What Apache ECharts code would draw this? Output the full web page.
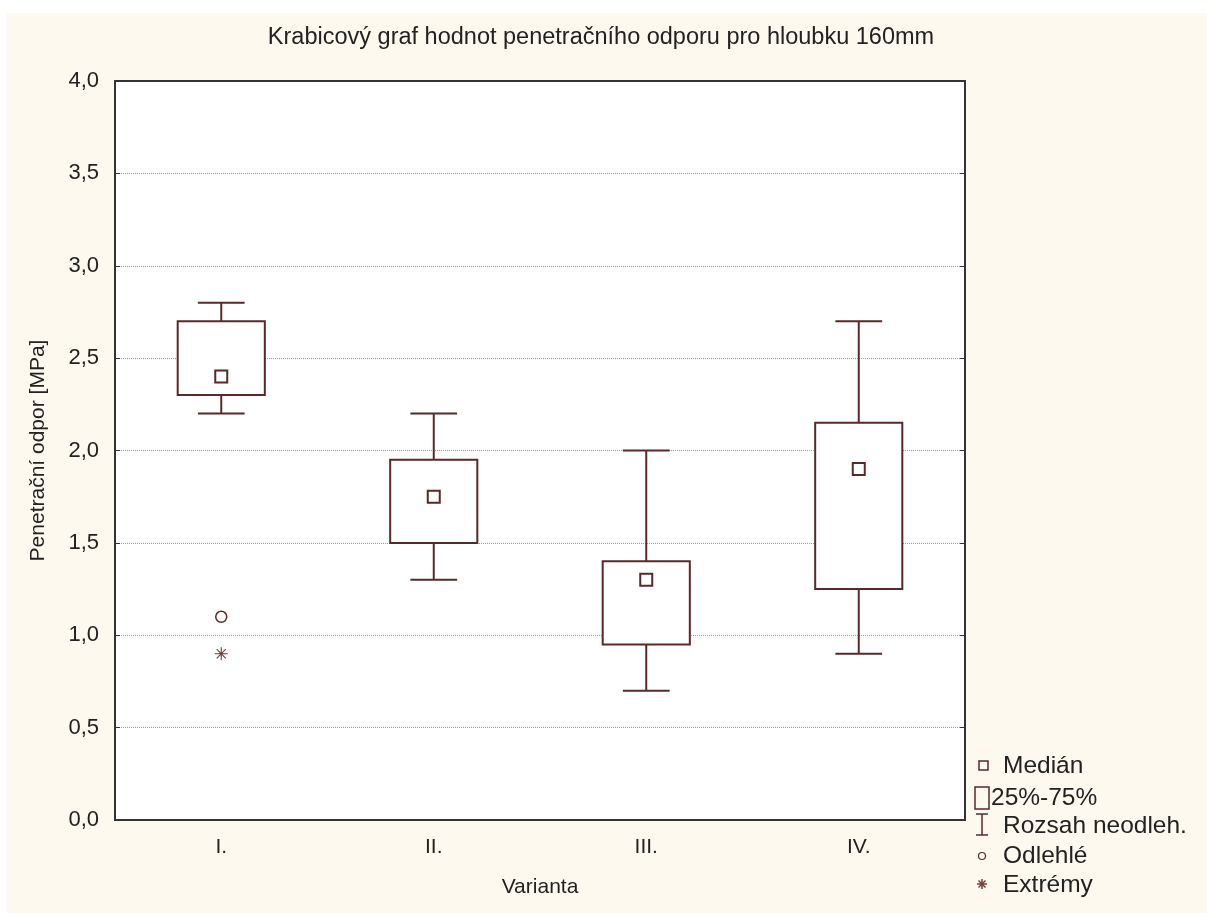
<!DOCTYPE html>
<html>
<head>
<meta charset="utf-8">
<script src="https://cdn.jsdelivr.net/npm/echarts@6/dist/echarts.min.js"></script>
<style>
  html, body { margin: 0; padding: 0; background: #ffffff; }
  #chart { width: 1207px; height: 913px; }
</style>
</head>
<body>
<div id="chart"></div>
<script>
// data
const categories = ["I.", "II.", "III.", "IV."];
const whiskerLow = [2.2, 1.3, 0.7, 0.9];
const q1 = [2.3, 1.5, 0.95, 1.25];
const median = [2.4, 1.75, 1.3, 1.9];
const q3 = [2.7, 1.95, 1.4, 2.15];
const whiskerHigh = [2.8, 2.2, 2.0, 2.7];
const outliers = [[0, 1.1]];
const extremes = [[0, 0.9]];
const yTicks = [0, 0.5, 1, 1.5, 2, 2.5, 3, 3.5, 4];

const MAROON = "#5a2828";
const FONT = '"Liberation Sans", Arial, sans-serif';
const TXT = "#222222";

const boxData = categories.map((c, i) => [i, q1[i], q3[i]]);
const whiskerData = categories.map((c, i) => [i, whiskerLow[i], q1[i], q3[i], whiskerHigh[i]]);
const medianData = categories.map((c, i) => [i, median[i]]);

const chart = echarts.init(document.getElementById("chart"));

function line(x1, y1, x2, y2) {
  return {
    type: "line",
    shape: { x1: x1, y1: y1, x2: x2, y2: y2 },
    style: { stroke: MAROON, lineWidth: 2 },
  };
}

// small legend glyph line
function lg(x1, y1, x2, y2, color) {
  return {
    type: "line",
    shape: { x1: x1, y1: y1, x2: x2, y2: y2 },
    style: { stroke: color || MAROON, lineWidth: 1.5 },
  };
}

function legendText(x, y, text) {
  return {
    type: "text",
    x: x,
    y: y,
    style: { text: text, font: "24.5px " + FONT, fill: TXT, verticalAlign: "middle" },
  };
}

const option = {
  backgroundColor: "#ffffff",
  animation: false,
  title: {
    text: "Krabicový graf hodnot penetračního odporu pro hloubku 160mm",
    left: 596,
    top: 21,
    textAlign: "center",
    textStyle: { fontFamily: FONT, fontSize: 23.5, fontWeight: "normal", color: TXT },
  },
  grid: {
    left: 115,
    right: 242,
    top: 81,
    bottom: 93,
    show: true,
    backgroundColor: "#ffffff",
    borderWidth: 0,
  },
  xAxis: [
    {
      type: "category",
      data: categories,
      boundaryGap: true,
      name: "Varianta",
      nameLocation: "middle",
      nameGap: 57,
      nameTextStyle: { fontFamily: FONT, fontSize: 21, color: TXT },
      axisLine: { onZero: false, lineStyle: { color: "#333333", width: 2 } },
      axisTick: { inside: true, alignWithLabel: true, length: 6, lineStyle: { color: "#333333", width: 2 } },
      axisLabel: { fontFamily: FONT, fontSize: 21, color: TXT, margin: 17 },
      splitLine: { show: false },
    },
    {
      type: "category",
      data: categories,
      position: "top",
      boundaryGap: true,
      axisLine: { onZero: false, lineStyle: { color: "#333333", width: 2 } },
      axisTick: { inside: true, alignWithLabel: true, length: 6, lineStyle: { color: "#333333", width: 2 } },
      axisLabel: { show: false },
      splitLine: { show: false },
    },
  ],
  yAxis: [
    {
      type: "value",
      min: yTicks[0],
      max: yTicks[yTicks.length - 1],
      interval: yTicks[1] - yTicks[0],
      name: "Penetrační odpor [MPa]",
      nameLocation: "middle",
      nameGap: 66,
      nameRotate: 90,
      nameTextStyle: { fontFamily: FONT, fontSize: 21, color: TXT },
      axisLine: { show: true, onZero: false, lineStyle: { color: "#333333", width: 2 } },
      axisTick: { show: true, inside: true, length: 5, lineStyle: { color: "#333333", width: 1 } },
      axisLabel: {
        fontFamily: FONT,
        fontSize: 22,
        color: TXT,
        margin: 16,
        formatter: (v) => v.toFixed(1).replace(".", ","),
      },
      splitLine: { show: true, lineStyle: { color: "#9a9a9a", type: "dotted", width: 1 } },
    },
    {
      type: "value",
      position: "right",
      min: yTicks[0],
      max: yTicks[yTicks.length - 1],
      interval: yTicks[1] - yTicks[0],
      axisLine: { show: true, onZero: false, lineStyle: { color: "#333333", width: 2 } },
      axisTick: { show: true, inside: true, length: 5, lineStyle: { color: "#333333", width: 1 } },
      axisLabel: { show: false },
      splitLine: { show: false },
    },
  ],
  series: [
    {
      name: "Rozsah neodleh.",
      type: "custom",
      z: 3,
      data: whiskerData,
      renderItem: function (params, api) {
        const x = api.value(0);
        const lo = api.coord([x, api.value(1)]);
        const b = api.coord([x, api.value(2)]);
        const t = api.coord([x, api.value(3)]);
        const hi = api.coord([x, api.value(4)]);
        const cap = api.size([1, 0])[0] * 0.22 / 2;
        return {
          type: "group",
          children: [
            line(hi[0], hi[1], t[0], t[1]),
            line(hi[0] - cap, hi[1], hi[0] + cap, hi[1]),
            line(b[0], b[1], lo[0], lo[1]),
            line(lo[0] - cap, lo[1], lo[0] + cap, lo[1]),
          ],
        };
      },
    },
    {
      name: "25%-75%",
      type: "custom",
      z: 4,
      data: boxData,
      renderItem: function (params, api) {
        const x = api.value(0);
        const bot = api.coord([x, api.value(1)]);
        const top = api.coord([x, api.value(2)]);
        const w = api.size([1, 0])[0] * 0.41;
        return {
          type: "rect",
          shape: { x: top[0] - w / 2, y: top[1], width: w, height: bot[1] - top[1] },
          style: { fill: "#ffffff", stroke: MAROON, lineWidth: 2 },
        };
      },
    },
    {
      name: "Medián",
      type: "scatter",
      z: 5,
      data: medianData,
      symbol: "rect",
      symbolSize: 12,
      itemStyle: { color: "#ffffff", borderColor: MAROON, borderWidth: 2, opacity: 1 },
    },
    {
      name: "Odlehlé",
      type: "scatter",
      z: 5,
      data: outliers,
      symbol: "circle",
      symbolSize: 11,
      itemStyle: { color: "#ffffff", borderColor: MAROON, borderWidth: 1.5, opacity: 1 },
    },
    {
      name: "Extrémy",
      type: "scatter",
      z: 5,
      data: extremes,
      symbol: "path://M5,0L5,10M0,5L10,5M1.5,1.5L8.5,8.5M8.5,1.5L1.5,8.5",
      symbolSize: 13,
      itemStyle: { color: "none", borderColor: "#7a3a3a", borderWidth: 1.1, opacity: 1 },
    },
  ],
  graphic: [
    {
      type: "rect",
      z: -100,
      silent: true,
      shape: { x: 7, y: 13, width: 1200, height: 900 },
      style: { fill: "#fdf9ee" },
    },
    // legend glyphs
    { type: "rect", shape: { x: 979, y: 761, width: 9, height: 9 }, style: { fill: "none", stroke: MAROON, lineWidth: 1.5 } },
    { type: "rect", shape: { x: 975, y: 787, width: 14, height: 22 }, style: { fill: "none", stroke: MAROON, lineWidth: 1.5 } },
    lg(982, 814, 982, 835),
    lg(976, 814, 988, 814),
    lg(976, 835, 988, 835),
    { type: "circle", shape: { cx: 982, cy: 856, r: 3.5 }, style: { fill: "none", stroke: MAROON, lineWidth: 1.2 } },
    lg(982, 879, 982, 889, "#7a3a3a"),
    lg(977, 884, 987, 884, "#7a3a3a"),
    lg(978.5, 880.5, 985.5, 887.5, "#7a3a3a"),
    lg(985.5, 880.5, 978.5, 887.5, "#7a3a3a"),
    // legend labels
    legendText(1003, 766, "Medián"),
    legendText(991, 798, "25%-75%"),
    legendText(1003, 826, "Rozsah neodleh."),
    legendText(1003, 856, "Odlehlé"),
    legendText(1003, 885, "Extrémy"),
  ],
};

chart.setOption(option);
</script>
</body>
</html>
